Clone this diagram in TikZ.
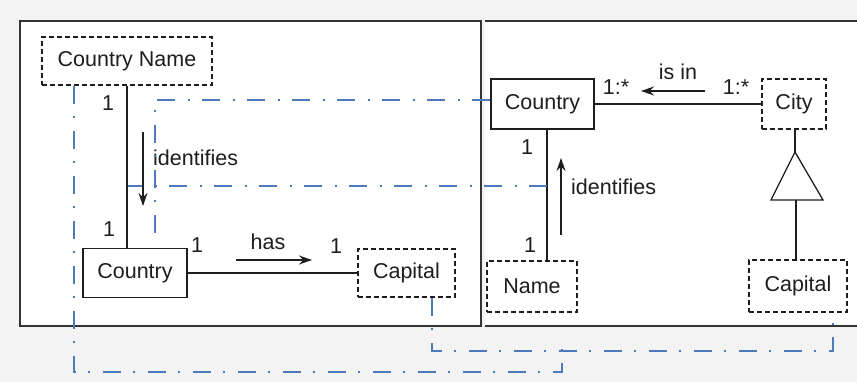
\documentclass[tikz,border=0pt]{standalone}
\usepackage{fontspec}
\setmainfont{Liberation Sans}
\usetikzlibrary{arrows.meta}
\definecolor{linkblue}{RGB}{78,122,188}
\definecolor{panelgray}{RGB}{243,243,243}
\definecolor{ink}{RGB}{30,30,30}
\begin{document}
\begin{tikzpicture}[x=1pt,y=-1pt,
  font=\fontsize{21.5}{25}\selectfont,
  solidbox/.style={draw=ink,line width=1.3pt,inner sep=0pt,text=ink},
  dashbox/.style={solidbox,dash pattern=on 5pt off 3pt},
  panel/.style={draw=black!80,line width=1.6pt},
  link/.style={linkblue,line width=1.8pt,dash pattern=on 18pt off 12pt on 2pt off 13pt},
  rel/.style={ink,line width=1.3pt},
  dirarrow/.style={ink,line width=1.4pt,-{Stealth[length=13pt,width=9pt]}},
  lab/.style={text=ink,inner sep=0pt}]
\useasboundingbox (0,0) rectangle (857,382);
% background and panels
\fill[panelgray] (0,0) rectangle (857,382);
\fill[white] (20,21) rectangle (481,326);
\draw[panel] (20,21) rectangle (481,326);
\fill[white] (485,21) rectangle (857,326);
\draw[panel] (485,21) -- (857,21);
\draw[panel] (485,326) -- (857,326);

% nodes left
\node[dashbox,minimum width=170pt,minimum height=48pt] (cname) at (127,61) {Country Name};
\node[solidbox,minimum width=104pt,minimum height=49pt] (lcountry) at (135,273) {Country};
\node[dashbox,minimum width=97pt,minimum height=48pt] (lcapital) at (406.5,273) {Capital};
% nodes right
\node[solidbox,minimum width=103pt,minimum height=50pt] (rcountry) at (542.5,104) {Country};
\node[dashbox,minimum width=64pt,minimum height=50pt] (city) at (794,104) {City};
\node[dashbox,minimum width=90pt,minimum height=51pt] (name) at (532,286.5) {Name};
\node[dashbox,minimum width=98pt,minimum height=52pt] (rcapital) at (798,286) {Capital};

% relationship lines
\draw[rel] (cname) -- (cname |- lcountry.north);
\draw[rel] (lcountry) -- (lcapital);
\draw[rel] (rcountry) -- (city);
\coordinate (rline) at (547,129);
\draw[rel] (rline |- rcountry.south) -- (rline |- name.north);
\coordinate (apex) at (795,152);
\coordinate (baseL) at (771,200);
\coordinate (baseR) at (823,200);
\coordinate (baseM) at (796,200);
\draw[rel] (apex |- city.south) -- (apex);
\draw[rel,line join=miter] (apex) -- (baseL) -- (baseR) -- cycle;
\draw[rel] (baseM) -- (baseM |- rcapital.north);

% direction arrows
\coordinate (idLa) at (143,132); \coordinate (idLb) at (143,206);
\draw[dirarrow] (idLa) -- (idLb);
\coordinate (hasa) at (236,260); \coordinate (hasb) at (312,260);
\draw[dirarrow] (hasa) -- (hasb);
\coordinate (isina) at (705,91); \coordinate (isinb) at (641,91);
\draw[dirarrow] (isina) -- (isinb);
\coordinate (idRa) at (561,235); \coordinate (idRb) at (561,158);
\draw[dirarrow] (idRa) -- (idRb);

% labels
\node[lab] (m1) at (108,103) {1};
\node[lab,anchor=west] (lid) at (153,158) {identifies};
\node[lab] (m2) at (109,229) {1};
\node[lab] (m3) at (197,245) {1};
\node[lab] (lhas) at (268,242) {has};
\node[lab] (m4) at (336,246) {1};
\node[lab] (m5) at (616,87) {1:*};
\node[lab] (lisin) at (678,72) {is in};
\node[lab] (m6) at (736,87) {1:*};
\node[lab] (m7) at (527,147) {1};
\node[lab,anchor=west] (rid) at (571,187) {identifies};
\node[lab] (m8) at (530,245) {1};

% blue dash-dot correspondence lines
\coordinate (b1a) at (155,100);
\coordinate (b1b) at (155,243);
\draw[link] (rcountry.west |- b1a) -- (b1a) -- (b1b);
\coordinate (b2a) at (128,186);
\coordinate (b2b) at (547,186);
\draw[link] (b2b) -- (b2a);
\coordinate (b3a) at (432,351);
\coordinate (b3b) at (833,351);
\draw[link] (b3a |- lcapital.south) -- (b3a) -- (b3b) -- (b3b |- rcapital.south);
\coordinate (b4a) at (74,372);
\coordinate (b4b) at (562,372);
\coordinate (b4c) at (562,338);
\draw[link] (b4a |- cname.south) -- (b4a) -- (b4b) -- (b4c);
\end{tikzpicture}
\end{document}
